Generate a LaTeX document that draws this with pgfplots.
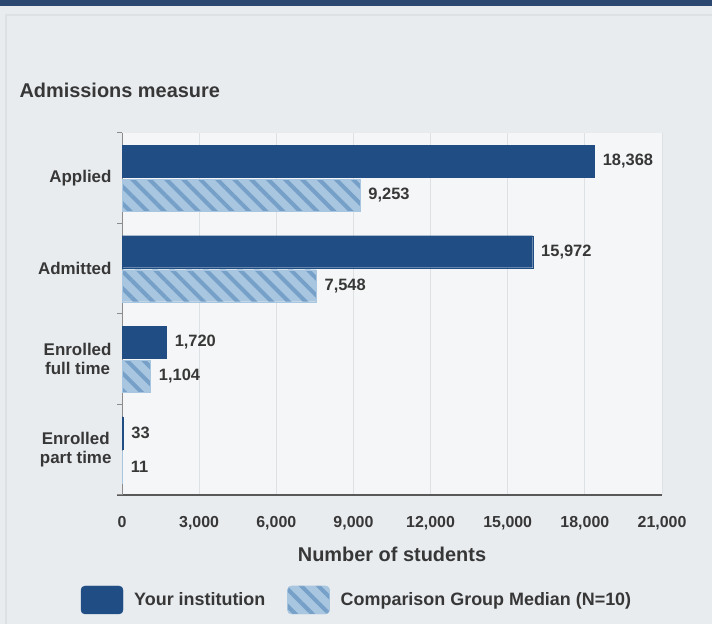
\documentclass[border=0pt]{standalone}
\usepackage{pgfplots}
\pgfplotsset{compat=1.18}
\usepackage{fontspec}
\setmainfont{Liberation Sans}
\usetikzlibrary{patterns.meta}

\definecolor{navy}{RGB}{31,77,132}
\definecolor{lightbar}{RGB}{168,198,224}
\definecolor{stripe}{RGB}{118,160,200}
\definecolor{outerbg}{RGB}{232,236,239}
\definecolor{plotbg}{RGB}{245,246,247}
\definecolor{topbar}{RGB}{42,72,112}
\definecolor{txt}{RGB}{55,55,55}
\definecolor{gridc}{RGB}{222,225,228}

\begin{document}
\begin{tikzpicture}[x=1bp,y=1bp]
\useasboundingbox (0,0) rectangle (712,624);
\fill[outerbg] (0,0) rectangle (712,624);
\fill[topbar] (0,618) rectangle (712,624);
\draw[gridc,line width=1.5bp] (6,-1) -- (6,609) -- (713,609);
\node[anchor=west,font=\fontsize{20}{22}\selectfont\bfseries,text=txt] at (16,534) {Admissions measure};

\begin{axis}[
    at={(122bp,129bp)}, anchor=south west,
    scale only axis,
    width=540bp, height=362bp,
    xbar, bar width=32bp,
    xmin=0, xmax=21000,
    ymin=-0.5, ymax=3.5,
    axis lines*=left,
    axis background/.style={fill=plotbg},
    x axis line style={draw=black!65, line width=1.5bp, shorten <=-5bp},
    y axis line style={draw=black!45, line width=1bp},
    xtick={0,3000,...,21000},
    scaled x ticks=false,
    ytick={0,1,2,3},
    yticklabels={{Enrolled\\part time}, {Enrolled\\full time}, Admitted, Applied},
    major tick length=0pt,
    extra y ticks={-0.5,0.5,1.5,2.5,3.5},
    extra y tick labels={},
    extra y tick style={major tick length=5bp, tick align=outside, tick style={draw=black!45, line width=1bp}},
    xmajorgrids,
    grid style={draw=gridc, line width=1bp},
    /pgf/number format/1000 sep={,},
    /pgf/number format/assume math mode=true,
    xticklabel style={font=\fontsize{16}{18}\selectfont\bfseries, text=txt, yshift=-18bp},
    yticklabel style={font=\fontsize{17}{19}\selectfont\bfseries, text=txt, align=center, xshift=-7bp},
    xlabel={Number of students},
    xlabel style={at={(axis description cs:0.5,0)}, anchor=center, yshift=-59bp,
        font=\fontsize{20}{22}\selectfont\bfseries, text=txt},
    nodes near coords,
    every node near coord/.append style={font=\fontsize{16.5}{18}\selectfont\bfseries, text=txt, xshift=5bp},
    legend columns=2,
    legend style={at={(axis description cs:0.5,0)}, anchor=center, xshift=-35bp, yshift=-105bp,
        draw=none, fill=none, font=\fontsize{18}{20}\selectfont\bfseries, text=txt,
        /tikz/every odd column/.append style={column sep=9bp},
        /tikz/every even column/.append style={column sep=20bp}},
    legend image code/.code={\draw[#1, rounded corners=4bp] (0bp,-14bp) rectangle (42bp,14bp);},
]
\addplot[draw=navy, fill=navy, bar shift=17bp]
    coordinates {(18368,3) (15972,2) (1720,1) (33,0)};
\addplot[draw=lightbar, fill=lightbar, bar shift=-17bp,
    postaction={pattern={Lines[angle=-45,distance=12bp,line width=4bp]}, pattern color=stripe}]
    coordinates {(9253,3) (7548,2) (1104,1) (11,0)};
\legend{Your institution, Comparison Group Median (N=10)}
\end{axis}
\end{tikzpicture}
\end{document}
